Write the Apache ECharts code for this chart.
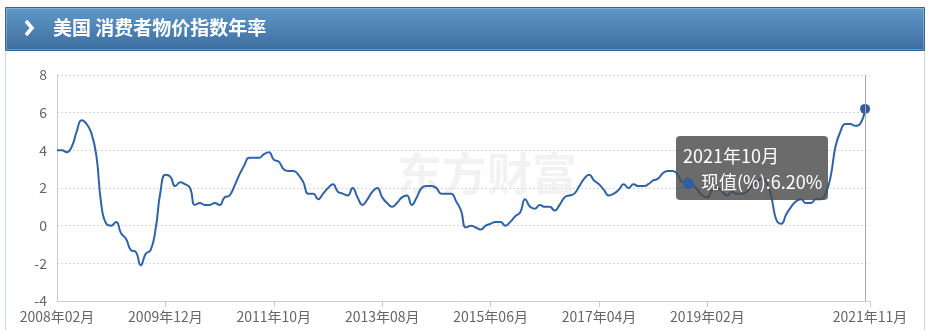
<!DOCTYPE html>
<html>
<head>
<meta charset="utf-8">
<script src="https://cdn.jsdelivr.net/npm/echarts@6/dist/echarts.min.js"></script>
<style>
html,body{margin:0;padding:0;background:#fff;}
#c{width:934px;height:330px;}
</style>
</head>
<body>
<div id="c"></div>
<script>
// ---- data ----
var title = '美国 消费者物价指数年率';
var seriesName = '现值(%)';
var startYear = 2008, startMonth = 2, endYear = 2021, endMonth = 11;
// US CPI YoY, 2008-02 .. 2021-10
var cpi2008 = [4.0,4.0,3.9,4.2,5.0,5.6,5.4,4.9,3.7,1.1,0.1];
var cpi2009 = [0.0,0.2,-0.4,-0.7,-1.3,-1.4,-2.1,-1.5,-1.3,-0.2,1.8,2.7];
var cpi2010 = [2.6,2.1,2.3,2.2,2.0,1.1,1.2,1.1,1.1,1.2,1.1,1.5];
var cpi2011 = [1.6,2.1,2.7,3.2,3.6,3.6,3.6,3.8,3.9,3.5,3.4,3.0];
var cpi2012 = [2.9,2.9,2.7,2.3,1.7,1.7,1.4,1.7,2.0,2.2,1.8,1.7];
var cpi2013 = [1.6,2.0,1.5,1.1,1.4,1.8,2.0,1.5,1.2,1.0,1.2,1.5];
var cpi2014 = [1.6,1.1,1.5,2.0,2.1,2.1,2.0,1.7,1.7,1.7,1.3,0.8];
var cpi2015 = [-0.1,0.0,-0.1,-0.2,0.0,0.1,0.2,0.2,0.0,0.2,0.5,0.7];
var cpi2016 = [1.4,1.0,0.9,1.1,1.0,1.0,0.8,1.1,1.5,1.6,1.7,2.1];
var cpi2017 = [2.5,2.7,2.4,2.2,1.9,1.6,1.7,1.9,2.2,2.0,2.2,2.1];
var cpi2018 = [2.1,2.2,2.4,2.5,2.8,2.9,2.9,2.7,2.3,2.5,2.2,1.9];
var cpi2019 = [1.6,1.5,1.9,2.0,1.8,1.6,1.8,1.7,1.7,1.8,2.1,2.3];
var cpi2020 = [2.5,2.3,1.5,0.3,0.1,0.6,1.0,1.3,1.4,1.2,1.2,1.4];
var cpi2021 = [1.4,1.7,2.6,4.2,5.0,5.4,5.4,5.3,5.4,6.2];
var yTicks = [-4,-2,0,2,4,6,8];

var values = [].concat(cpi2008,cpi2009,cpi2010,cpi2011,cpi2012,cpi2013,cpi2014,
  cpi2015,cpi2016,cpi2017,cpi2018,cpi2019,cpi2020,cpi2021);

var categories = [];
(function(){
  var y = startYear, m = startMonth;
  while (y < endYear || (y === endYear && m <= endMonth)) {
    categories.push(y + '年' + (m < 10 ? '0' + m : '' + m) + '月');
    m++; if (m > 12) { m = 1; y++; }
  }
})();
var lastIdx = categories.length - 1;
function showLabel(i){ return (i % 22 === 0 && i <= 132) || i === lastIdx; }

var FONT = '"Noto Sans CJK SC", "Noto Sans", sans-serif';
var chart = echarts.init(document.getElementById('c'), null, {renderer:'canvas'});
chart.setOption({
  animation: false,
  textStyle: {fontFamily: FONT},
  grid: {left: 57, right: 64, top: 75, bottom: 29, containLabel: false},
  graphic: [
    {type:'rect', shape:{x:5.5,y:7.5,width:919,height:43}, z:0,
     style:{fill:new echarts.graphic.LinearGradient(0,0,0,1,[{offset:0,color:'#6199c9'},{offset:1,color:'#3d6c9f'}]), stroke:'#3a6693', lineWidth:1}},
    {type:'rect', shape:{x:6.5,y:8.5,width:917,height:41}, z:0,
     style:{fill:'none', stroke:'rgba(255,255,255,0.25)', lineWidth:1}},
    {type:'polyline', shape:{points:[[26,21],[32,28],[26,35]]}, z:1,
     style:{stroke:'#ffffff', lineWidth:3.5, fill:'none'}},
    {type:'text', x:53, y:28, z:1,
     style:{text:title, fill:'#ffffff', font:'bold 19px ' + FONT, verticalAlign:'middle'}},
    {type:'line', shape:{x1:5.5,y1:51,x2:5.5,y2:330}, z:0, style:{stroke:'#c8dbec', lineWidth:1}},
    {type:'line', shape:{x1:924.5,y1:51,x2:924.5,y2:330}, z:0, style:{stroke:'#c8dbec', lineWidth:1}},
    {type:'text', x:397, y:174, z:0,
     style:{text:'东方财富', fill:'rgba(0,0,0,0.05)', font:'bold 45px ' + FONT, verticalAlign:'middle'}}
  ],
  tooltip: {
    trigger: 'axis',
    alwaysShowContent: true,
    backgroundColor: 'rgba(75,75,75,0.82)',
    borderWidth: 0,
    padding: [6, 6, 6, 7],
    extraCssText: 'border-radius:4px;box-shadow:none;',
    textStyle: {color:'#fff', fontSize:18, fontFamily: FONT},
    position: function(){ return [676, 136]; },
    axisPointer: {type:'line', lineStyle:{color:'#aaaaaa', width:1, type:'solid'}},
    formatter: function(ps){
      var p = ps[0];
      var mk = '<span style="display:inline-block;width:11px;height:11px;border-radius:6px;background:#2f5ea3;margin-right:7px;vertical-align:middle;position:relative;top:-1px"></span>';
      return '<div style="line-height:26px">' + p.name + '<br/>' + mk + p.seriesName + ':' + Number(p.value).toFixed(2) + '%</div>';
    }
  },
  xAxis: [
    {
      type:'category', data: categories, boundaryGap:false, position:'bottom',
      axisLine:{show:false}, axisTick:{show:false},
      axisLabel:{interval:function(i){return showLabel(i);}, color:'#666', fontSize:14, margin:9, fontFamily:FONT, showMaxLabel:true},
      splitLine:{show:false}
    },
    {
      type:'category', data: categories, boundaryGap:false, position:'bottom',
      axisLine:{show:true, onZero:true, lineStyle:{color:'#cccccc', width:1}},
      axisTick:{show:true, interval:function(i){return showLabel(i) && i !== 0;}, length:6, lineStyle:{color:'#cccccc'}},
      axisLabel:{show:false}, axisPointer:{show:false},
      splitLine:{show:false}
    }
  ],
  yAxis: {
    type:'value', min: yTicks[0], max: yTicks[yTicks.length-1], interval: 2,
    axisLine:{show:true, lineStyle:{color:'#cccccc'}},
    axisTick:{show:false},
    axisLabel:{color:'#666', fontSize:14, margin:10, fontFamily:FONT},
    splitLine:{show:true, lineStyle:{color:'#d8d8d8', type:[2,2]}}
  },
  series: [{
    name: seriesName, type:'line', data: values, xAxisIndex:0,
    smooth: true, showSymbol:false, symbol:'circle', symbolSize:10,
    lineStyle:{color:'#2c5a96', width:2},
    itemStyle:{color:'#2f5ea3'},
    emphasis:{scale:false, lineStyle:{width:2}}
  }]
});
chart.dispatchAction({type:'showTip', seriesIndex:0, dataIndex: values.length - 1});
</script>
</body>
</html>
